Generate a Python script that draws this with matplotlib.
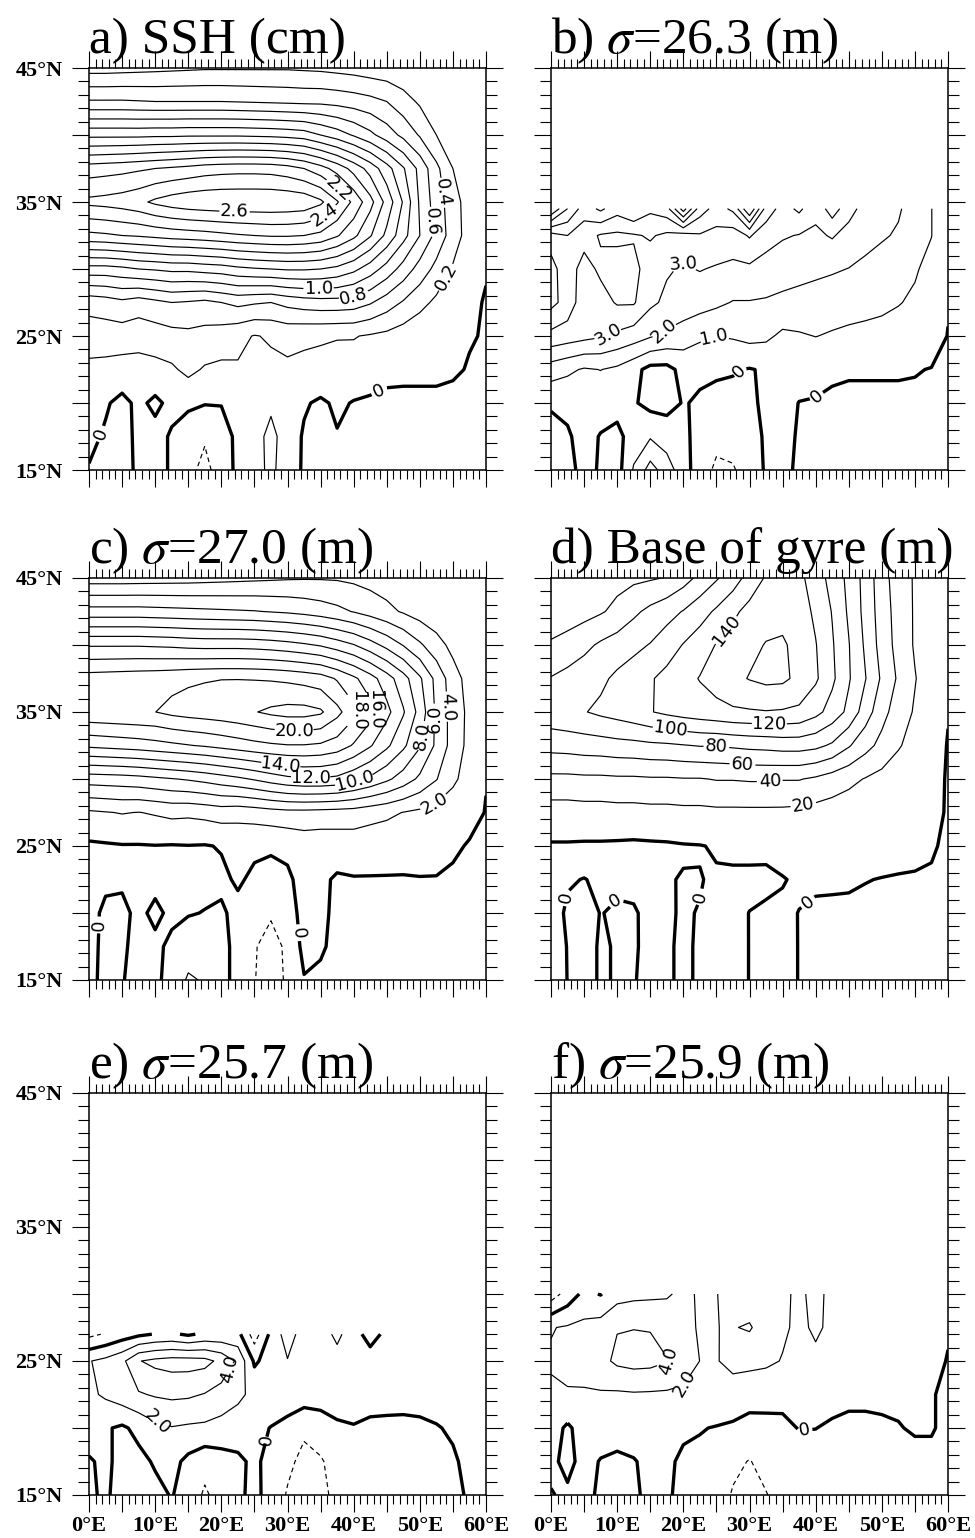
"""
Six-panel contour map, 0-60E / 15-45N:
SSH, depth of three sigma surfaces and the base of the gyre.
"""
import numpy as np
import matplotlib.pyplot as plt
from matplotlib.ticker import MultipleLocator, FuncFormatter

plt.rcParams["font.family"] = ["Liberation Serif", "DejaVu Serif"]
plt.rcParams["mathtext.fontset"] = "stix"

LON = [0, 2.5, 5, 7.5, 10, 12.5, 15, 17.5, 20, 22.5, 25, 27.5, 30,
       32.5, 35, 37.5, 40, 42.5, 45, 47.5, 50, 52.5, 55, 57.5, 60]

LAT_FULL = [45, 42.5, 40, 37.5, 35, 32.5, 30, 27.5, 25, 22.5, 20, 17.5, 15]
LAT_263 = [34.5, 32.5, 30, 27.5, 25, 22.5, 20, 17.5, 15]
LAT_257 = [27, 25, 22.5, 20, 17.5, 15]
LAT_259 = [30, 27.5, 25, 22.5, 20, 17.5, 15]

# sea surface height (cm), rows north -> south
ssh = [
    [0.12, 0.12, 0.13, 0.14, 0.15, 0.16, 0.17, 0.18, 0.18, 0.18, 0.18, 0.18, 0.18, 0.17, 0.16, 0.14, 0.12, 0.09, 0.07, 0.05, 0.04, 0.03, 0.02, 0.01, 0.01],
    [0.62, 0.62, 0.62, 0.61, 0.60, 0.60, 0.60, 0.60, 0.60, 0.59, 0.58, 0.57, 0.56, 0.55, 0.55, 0.53, 0.50, 0.46, 0.40, 0.28, 0.17, 0.09, 0.04, 0.02, 0.01],
    [1.35, 1.35, 1.35, 1.35, 1.36, 1.36, 1.37, 1.37, 1.37, 1.37, 1.36, 1.35, 1.33, 1.30, 1.20, 1.10, 0.98, 0.85, 0.70, 0.55, 0.38, 0.20, 0.08, 0.03, 0.01],
    [2.10, 2.12, 2.14, 2.17, 2.20, 2.23, 2.26, 2.30, 2.32, 2.33, 2.33, 2.32, 2.28, 2.20, 2.08, 1.92, 1.73, 1.52, 1.28, 1.02, 0.74, 0.45, 0.20, 0.07, 0.01],
    [2.45, 2.47, 2.50, 2.55, 2.64, 2.70, 2.74, 2.76, 2.77, 2.77, 2.77, 2.77, 2.76, 2.74, 2.64, 2.42, 2.15, 1.87, 1.53, 1.18, 0.77, 0.50, 0.29, 0.10, 0.01],
    [1.95, 1.97, 2.00, 2.02, 2.05, 2.08, 2.10, 2.12, 2.15, 2.18, 2.20, 2.22, 2.22, 2.20, 2.15, 2.02, 1.85, 1.62, 1.35, 1.07, 0.80, 0.54, 0.30, 0.11, 0.01],
    [1.12, 1.12, 1.15, 1.20, 1.22, 1.25, 1.25, 1.28, 1.30, 1.35, 1.38, 1.40, 1.42, 1.42, 1.40, 1.35, 1.25, 1.10, 0.92, 0.72, 0.52, 0.34, 0.18, 0.07, 0.01],
    [0.47, 0.50, 0.55, 0.50, 0.55, 0.60, 0.58, 0.55, 0.60, 0.65, 0.62, 0.60, 0.66, 0.70, 0.72, 0.72, 0.70, 0.62, 0.50, 0.38, 0.26, 0.16, 0.08, 0.03, -0.01],
    [0.30, 0.30, 0.30, 0.28, 0.30, 0.33, 0.35, 0.33, 0.30, 0.25, 0.19, 0.22, 0.25, 0.23, 0.22, 0.21, 0.21, 0.18, 0.15, 0.10, 0.06, 0.04, 0.02, 0.01, -0.01],
    [0.15, 0.14, 0.12, 0.12, 0.14, 0.17, 0.25, 0.18, 0.16, 0.18, 0.17, 0.16, 0.17, 0.16, 0.15, 0.13, 0.12, 0.10, 0.06, 0.05, 0.05, 0.04, 0.02, -0.01, -0.02],
    [0.05, 0.02, -0.05, 0.04, -0.04, 0.05, 0.04, 0.01, 0.01, 0.06, 0.10, 0.16, 0.07, 0.02, -0.03, 0.03, -0.01, -0.03, -0.05, -0.05, -0.05, -0.04, -0.04, -0.03, -0.03],
    [0.04, -0.02, -0.08, 0.05, 0.06, -0.02, -0.12, -0.18, -0.10, 0.05, 0.12, 0.26, 0.10, -0.02, -0.06, -0.01, -0.05, -0.06, -0.06, -0.06, -0.05, -0.05, -0.05, -0.05, -0.05],
    [-0.01, -0.05, -0.06, 0.03, 0.06, -0.02, -0.15, -0.25, -0.12, 0.05, 0.12, 0.25, 0.08, -0.02, -0.05, -0.05, -0.05, -0.05, -0.05, -0.05, -0.05, -0.05, -0.05, -0.05, -0.05],
]

# depth anomaly of sigma = 26.3 (m)
sig263 = [
    [9.0, 7.0, 5.5, 6.2, 5.4, 6.0, 5.2, 5.6, 8.5, 5.5, 4.6, 5.2, 8.0, 4.6, 3.6, 4.2, 3.3, 4.5, 3.4, 2.6, 2.3, 2.1, 1.6, 1.02, 0.1],
    [4.6, 5.0, 4.4, 3.9, 3.8, 3.9, 4.1, 3.8, 3.6, 3.9, 3.7, 3.5, 4.1, 3.4, 3.1, 2.95, 2.8, 3.1, 2.6, 2.3, 2.1, 1.9, 1.6, 1.02, 0.1],
    [5.3, 4.5, 3.6, 4.2, 4.4, 4.3, 3.5, 3.1, 2.9, 3.05, 2.9, 2.8, 2.8, 2.6, 2.4, 2.3, 2.2, 2.1, 1.98, 1.8, 1.6, 1.4, 1.1, 0.7, 0.05],
    [5.3, 4.6, 3.4, 3.6, 4.1, 4.1, 3.2, 2.8, 2.6, 2.4, 2.2, 1.95, 1.95, 1.9, 1.8, 1.7, 1.6, 1.5, 1.4, 1.3, 1.2, 1.05, 0.85, 0.5, 0.05],
    [3.7, 3.5, 3.3, 3.1, 2.8, 2.5, 2.1, 1.8, 1.5, 1.2, 1.02, 1.1, 1.3, 1.2, 0.8, 0.9, 1.02, 0.9, 0.8, 0.75, 0.7, 0.6, 0.5, 0.3, -0.02],
    [1.5, 1.2, 0.9, 1.02, 0.8, 0.3, -0.3, -0.3, 0.3, 0.15, 0.1, 0.05, -0.05, 0.1, 0.4, 0.4, 0.25, 0.1, 0.05, 0.05, 0.05, 0.05, 0.03, -0.02, -0.1],
    [0.1, 0.2, 0.4, 0.4, 0.4, 0.1, -0.3, -0.3, 0.05, -0.1, -0.2, -0.2, -0.2, 0.2, 0.3, -0.02, -0.05, -0.1, -0.1, -0.1, -0.1, -0.1, -0.1, -0.1, -0.2],
    [-0.3, -0.1, 0.3, -0.05, -0.3, 0.5, 0.9, 0.5, 0.2, -0.3, -0.7, -0.6, -0.3, 0.1, 0.3, -0.1, -0.3, -0.3, -0.3, -0.3, -0.3, -0.3, -0.3, -0.3, -0.3],
    [-0.5, -0.3, 0.3, -0.1, -0.4, 1.1, 2.4, 1.5, 0.4, -0.5, -1.2, -1.1, -0.5, 0.1, 0.3, -0.2, -0.4, -0.4, -0.4, -0.4, -0.4, -0.4, -0.4, -0.4, -0.4],
]

# depth anomaly of sigma = 27.0 (m)
sig270 = [
    [1.0, 1.0, 1.0, 1.05, 1.1, 1.15, 1.2, 1.3, 1.4, 1.5, 1.6, 1.7, 1.8, 1.85, 1.85, 1.8, 1.6, 1.3, 1.0, 0.7, 0.45, 0.3, 0.15, 0.08, 0.03],
    [6.8, 6.8, 6.8, 6.8, 6.7, 6.6, 6.5, 6.4, 6.3, 6.2, 6.1, 5.9, 5.7, 5.4, 5.0, 4.5, 3.9, 3.2, 2.5, 1.8, 1.1, 0.6, 0.3, 0.1, 0.05],
    [13.8, 13.8, 13.8, 13.8, 13.7, 13.6, 13.4, 13.3, 13.3, 13.3, 13.2, 13.0, 12.7, 12.3, 11.8, 11.0, 10.1, 8.8, 7.4, 5.9, 4.3, 2.8, 1.4, 0.5, 0.05],
    [18.9, 19.0, 19.1, 19.2, 19.3, 19.45, 19.7, 19.85, 19.95, 19.95, 19.9, 19.8, 19.6, 19.3, 18.9, 17.8, 16.4, 14.8, 12.9, 10.8, 8.3, 5.4, 2.9, 1.2, 0.05],
    [19.6, 19.7, 19.8, 19.9, 19.98, 20.5, 20.8, 21.0, 21.2, 21.5, 21.9, 22.4, 22.7, 22.7, 22.3, 20.6, 18.6, 16.8, 14.6, 12.2, 9.3, 5.6, 3.2, 1.5, 0.05],
    [14.4, 14.6, 14.8, 15.0, 15.3, 15.6, 15.9, 16.2, 16.6, 17.0, 17.4, 17.7, 17.9, 17.9, 17.7, 17.1, 15.8, 14.2, 12.4, 10.4, 8.2, 5.6, 3.2, 1.4, 0.05],
    [6.9, 7.0, 7.1, 7.3, 7.6, 7.9, 8.2, 8.6, 9.1, 9.6, 10.2, 10.9, 11.5, 11.8, 11.8, 11.5, 10.6, 9.6, 8.4, 7.1, 5.6, 4.1, 2.4, 1.1, 0.05],
    [1.7, 1.9, 2.1, 1.95, 2.2, 2.5, 2.4, 2.6, 2.9, 2.7, 2.9, 3.2, 3.4, 3.4, 3.3, 3.2, 3.1, 2.7, 2.4, 1.95, 1.6, 1.2, 0.8, 0.4, -0.05],
    [-0.3, -0.2, -0.1, -0.1, -0.05, -0.1, -0.05, -0.1, 0.1, 0.5, 0.3, 0.2, 0.4, 0.8, 0.7, 0.8, 0.9, 0.8, 0.7, 0.6, 0.5, 0.4, 0.2, -0.1, -0.3],
    [-0.5, -0.3, -0.2, -0.4, -0.4, -0.4, -0.6, -0.4, -0.3, 0.2, -0.3, -0.5, -0.3, 0.6, 0.3, -0.2, -0.1, -0.1, -0.1, -0.1, -0.05, -0.05, -0.2, -0.3, -0.4],
    [-0.5, 0.3, 0.3, -0.3, 0.3, -0.3, -0.1, 0.05, 0.2, -0.4, -1.0, -1.7, -0.8, 0.6, 0.3, -0.3, -0.3, -0.4, -0.4, -0.4, -0.4, -0.4, -0.4, -0.5, -0.5],
    [-0.5, 0.4, 0.2, -0.4, -0.3, 0.3, 0.9, 0.8, 0.5, -0.5, -1.8, -3.0, -1.5, 0.5, 0.2, -0.4, -0.5, -0.5, -0.5, -0.5, -0.5, -0.5, -0.5, -0.5, -0.5],
    [-0.3, 0.3, 0.05, -0.3, -0.3, 0.5, 2.3, 1.8, 0.5, -0.5, -1.9, -3.2, -1.6, -0.1, -0.3, -0.4, -0.5, -0.5, -0.5, -0.5, -0.5, -0.5, -0.5, -0.5, -0.5],
]

# depth anomaly of the base of the gyre (m)
gyre_base = [
    [43, 46, 49, 52, 54, 56, 58, 61, 72, 85, 98, 110, 128, 142, 148, 145, 130, 113, 95, 73, 48, 30, 18, 8, 0.5],
    [45, 49, 53, 58, 65, 76, 85, 93, 101, 112, 123, 136, 146, 152, 155, 150, 136, 119, 97, 74, 50, 32, 18, 8, 0.5],
    [63, 68, 75, 83, 89, 95, 101, 110, 121, 130, 141, 148, 155, 161, 162, 155, 141, 122, 101, 77, 52, 33, 18, 8, 0.5],
    [81, 86, 91, 96, 104, 110, 118, 126, 133, 141, 148, 155, 161, 165, 164, 155, 143, 124, 102, 81, 57, 37, 21, 9, 0.5],
    [93, 96, 99, 104, 108, 113, 119, 124, 128, 131, 134, 137, 138, 139, 138, 136, 126, 112, 95, 70, 47, 30, 18, 8, 0.5],
    [67, 68, 70, 71, 73, 74, 76, 77, 79, 81, 81, 83, 85, 86, 88, 88, 85, 77, 62, 47, 34, 22, 12, 5, -0.5],
    [35, 35, 36, 36, 37, 37, 38, 38, 39, 39, 41, 41, 42, 42, 41, 41, 37, 31, 25, 19, 14, 8, 5, 2, -0.5],
    [11, 11, 12, 12, 13, 13, 14, 14, 15, 15, 16, 16, 16, 16, 16, 15, 13, 11, 9, 7, 5, 4, 3, 1.5, -0.5],
    [-1.5, -1.5, -2, -2, -2.5, -3, -2.5, -2, -1, -0.5, 1, 2, 2, 1.5, 2.5, 3, 3, 3, 2.5, 2, 1.5, 1, 0.6, 0.3, -0.5],
    [-1.5, -0.3, 0.1, -0.5, -0.6, -0.8, -1.0, -0.6, 0.5, 0.3, -1.0, -1.5, -1.5, -1.2, -0.3, 0.8, 0.5, 0.5, 0.4, 0.1, -0.1, -0.2, -0.2, -0.3, -0.8],
    [-1.5, 0.5, 1.2, -0.1, 0.4, 0.3, -0.8, -0.5, 0.4, -0.2, -1.2, -1.5, 0.1, 0.8, 0.9, -0.1, -0.5, -0.6, -0.6, -0.7, -0.7, -0.7, -0.8, -0.8, -0.8],
    [-1.5, 0.1, 1.0, -0.3, 0.2, 0.2, -0.5, -0.3, 0.4, -0.3, -1.4, -1.6, 0.1, 0.9, 1.0, -0.1, -0.7, -0.8, -0.8, -0.9, -0.9, -0.9, -0.9, -0.9, -0.9],
    [-1.5, 0.05, 1.0, -0.3, 0.2, 0.1, -0.5, -0.3, 0.4, -0.3, -1.5, -1.6, 0.1, 1.0, 1.0, -0.1, -0.8, -0.9, -0.9, -1.0, -1.0, -1.0, -1.0, -1.0, -1.0],
]

# depth anomaly of sigma = 25.7 (m)
sig257 = [
    [-2.5, -1.8, -1.0, -0.4, 0.1, 0.3, -0.3, 0.4, 0.5, 0.6, -3.0, 0.5, 3.0, 1.0, 1.0, 2.5, 0.8, -0.8, 0.5, 0.5, 0.5, 0.5, 0.5, 0.5, 0.4],
    [1.9, 2.5, 3.5, 5.9, 6.5, 6.8, 6.8, 6.6, 5.5, 3.6, -0.3, 0.8, 1.9, 1.2, 1.02, 1.2, 1.02, 0.9, 0.9, 0.85, 0.8, 0.75, 0.7, 0.65, 0.6],
    [1.6, 2.3, 3.1, 3.8, 4.2, 4.4, 4.3, 3.9, 3.2, 2.5, 1.4, 1.02, 1.1, 1.02, 0.9, 0.9, 0.8, 0.6, 0.5, 0.45, 0.4, 0.35, 0.3, 0.3, 0.3],
    [1.02, 0.2, -0.3, 0.5, 1.5, 1.9, 1.7, 1.6, 1.3, 0.8, 0.4, -0.05, -0.6, -1.6, -1.0, -0.3, -0.1, -0.3, -0.3, -0.3, -0.2, -0.05, 0.1, 0.2, 0.3],
    [-0.2, 0.4, -0.6, -0.5, 0.2, 0.6, -0.5, -1.3, -0.8, -0.3, 0.3, -0.5, -1.5, -2.6, -2.2, -1.2, -0.8, -0.7, -0.6, -0.5, -0.4, -0.3, -0.1, 0.2, 0.3],
    [-0.3, 0.3, -0.8, -0.8, -0.5, 0.1, -0.8, -2.3, -1.2, -0.3, 0.4, -0.6, -2.2, -2.8, -2.5, -1.5, -0.9, -0.8, -0.7, -0.6, -0.5, -0.4, -0.2, 0.1, 0.2],
]

# depth anomaly of sigma = 25.9 (m)
sig259 = [
    [-3.0, -1.2, 0.5, -0.1, 1.2, 1.5, 1.6, 1.8, 2.4, 1.8, 1.95, 2.6, 2.8, 2.6, 2.2, 1.8, 2.3, 1.7, 1.5, 1.4, 1.3, 1.2, 1.1, 0.8, 0.3],
    [1.9, 2.2, 2.5, 2.9, 3.9, 3.95, 3.9, 3.2, 2.6, 1.8, 1.6, 3.9, 4.2, 3.0, 2.3, 1.6, 2.3, 1.6, 1.4, 1.3, 1.2, 1.1, 1.02, 0.8, 0.2],
    [2.2, 2.8, 3.1, 3.4, 4.4, 4.7, 4.6, 4.1, 3.1, 1.98, 1.9, 2.5, 2.6, 2.4, 1.9, 1.5, 1.6, 1.5, 1.3, 1.2, 1.1, 1.02, 0.9, 0.6, -0.1],
    [1.7, 1.75, 1.7, 1.8, 1.7, 1.8, 1.75, 1.7, 1.6, 1.6, 1.5, 1.2, 0.6, 0.5, 0.4, 0.5, 0.6, 0.5, 0.3, 0.3, 0.3, 0.2, 0.15, 0.1, -0.3],
    [0.8, -0.3, 0.8, 0.9, 0.9, 0.8, 0.7, 0.5, 0.2, 0.1, -0.1, -0.3, -0.5, -0.4, -0.3, 0.05, 0.02, -0.2, -0.3, -0.3, -0.2, -0.05, 0.1, 0.1, -0.3],
    [0.4, -0.5, 0.6, -0.1, -0.4, -0.1, 0.4, 0.2, -0.2, -0.4, -0.6, -1.5, -2.1, -1.3, -0.8, -0.6, -0.6, -0.5, -0.5, -0.4, -0.4, -0.3, -0.3, -0.3, -0.5],
    [-0.1, 0.3, 0.5, -0.3, -0.6, -0.2, 0.3, 0.15, -0.3, -0.6, -0.9, -2.2, -2.8, -2.1, -1.2, -0.8, -0.7, -0.6, -0.6, -0.5, -0.5, -0.5, -0.5, -0.5, -0.5],
]


def one_decimal(v):
    return "0" if abs(v) < 1e-9 else f"{v:.1f}"


def integer(v):
    return f"{v:.0f}"


# (title, lat, field, contour interval, label format, label spots)
PANELS = [
    ("a) SSH (cm)", LAT_FULL, ssh, 0.2, one_decimal,
     [(22, 34.5), (37.8, 36.0), (35.6, 34.0), (53.6, 35.7), (51.3, 33.5),
      (53.5, 29.5), (34.7, 28.5), (40.0, 28.0), (43.3, 21.5), (2.4, 17.6)]),
    (r"b) $\sigma$=26.3 (m)", LAT_263, sig263, 1.0, one_decimal,
     [(20, 30.4), (8.4, 25.2), (16.5, 25.6), (24.5, 25.0), (28.0, 22.5), (40.2, 20.5)]),
    (r"c) $\sigma$=27.0 (m)", LAT_FULL, sig270, 2.0, one_decimal,
     [(31, 33.6), (40.8, 35.1), (43.6, 35.2), (29, 31.1), (33.5, 30.3), (40, 30.0),
      (50.5, 33.2), (52.3, 34.5), (54.1, 35.4), (52.1, 28.3), (2.0, 19.1), (31.0, 18.5)]),
    ("d) Base of gyre (m)", LAT_FULL, gyre_base, 20, integer,
     [(27.5, 40.7), (33, 34.4), (18, 33.7), (25, 32.7), (29, 31.5), (33, 30.2),
      (38, 28.4), (2.6, 21.1), (10, 20.8), (21.5, 21.3), (38.5, 21.0)]),
    (r"e) $\sigma$=25.7 (m)", LAT_257, sig257, 2.0, one_decimal,
     [(21.3, 24.4), (10.2, 20.4), (26.8, 19.1)]),
    (r"f) $\sigma$=25.9 (m)", LAT_259, sig259, 2.0, one_decimal,
     [(19.0, 25.0), (20.6, 23.3), (38.5, 19.5)]),
]

FIG_W, FIG_H = 975, 1538
COL_X = [89, 551]
ROW_TOP = [68, 578, 1093]
BOX_W, BOX_H = 397, 402


def east(v, pos):
    return f"{v:.0f}°E" if round(v) % 10 == 0 else ""


def north(v, pos):
    return f"{v:.0f}°N" if round(v - 15) % 10 == 0 else ""


fig = plt.figure(figsize=(FIG_W / 100, FIG_H / 100), dpi=100)

for i, (title, lat, field, step, fmt, spots) in enumerate(PANELS):
    row, col = divmod(i, 2)
    ax = fig.add_axes([COL_X[col] / FIG_W, 1 - (ROW_TOP[row] + BOX_H) / FIG_H,
                       BOX_W / FIG_W, BOX_H / FIG_H])
    z = np.array(field, dtype=float)

    lo = np.floor(z.min() / step) * step
    levels = np.round(np.arange(lo, z.max() + step * 0.01, step), 6)
    widths = [2.4 if abs(l) < 1e-9 else 0.85 for l in levels]
    styles = [(0, (4, 3)) if l < -1e-9 else "solid" for l in levels]
    cs = ax.contour(LON, lat, z, levels=levels, colors="k",
                    linewidths=widths, linestyles=styles)
    labels = ax.clabel(cs, levels=levels, manual=spots, inline=True,
                       inline_spacing=4, fmt=fmt, fontsize=13)
    for t in labels:
        t.set_fontfamily("DejaVu Sans")

    ax.set_xlim(0, 60)
    ax.set_ylim(15, 45)
    ax.xaxis.set_major_locator(MultipleLocator(5))
    ax.xaxis.set_minor_locator(MultipleLocator(1))
    ax.yaxis.set_major_locator(MultipleLocator(5))
    ax.yaxis.set_minor_locator(MultipleLocator(1))
    ax.xaxis.set_major_formatter(FuncFormatter(east))
    ax.yaxis.set_major_formatter(FuncFormatter(north))
    ax.tick_params(which="both", direction="out", top=True, right=True,
                   width=0.8, labelsize=16, pad=3,
                   labelbottom=(row == 2), labelleft=(col == 0))
    ax.tick_params(axis="y", which="major", pad=7)
    ax.tick_params(which="major", length=12)
    ax.tick_params(axis="x", which="minor", length=6.5)
    ax.tick_params(axis="y", which="minor", length=8)
    plt.setp(ax.get_xticklabels() + ax.get_yticklabels(), fontweight="bold")
    for sp in ax.spines.values():
        sp.set_linewidth(1.1)

    ax.text(0, 1 + 15 / BOX_H, title, transform=ax.transAxes,
            ha="left", va="baseline", fontsize=37)

fig.savefig("out.png", dpi=100)
